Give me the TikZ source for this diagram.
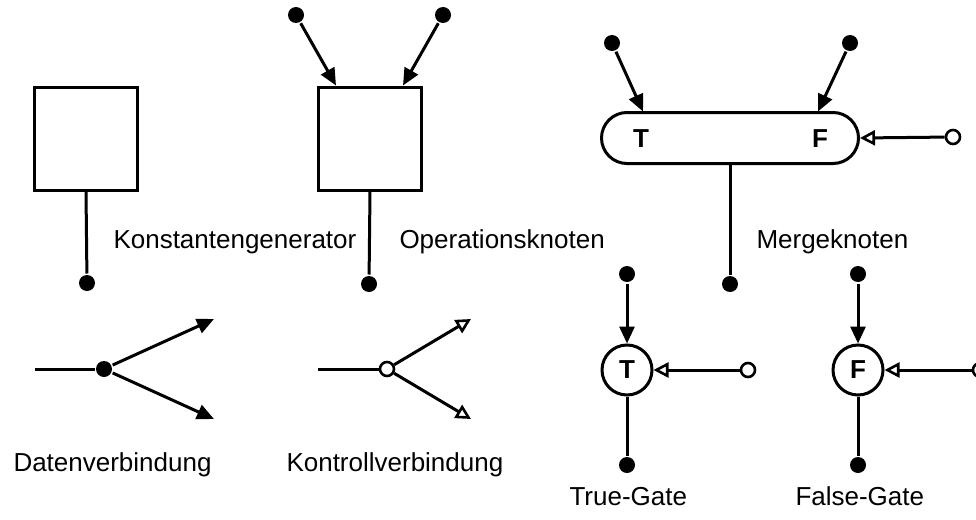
\documentclass[tikz,border=0pt]{standalone}
\usepackage{fontspec}
\setmainfont{Liberation Sans}
\usetikzlibrary{arrows.meta,shapes.misc,calc}

\tikzset{
  dot/.style={circle, fill=black, draw=none, minimum size=16pt, inner sep=0pt},
  odot/.style={circle, fill=white, draw=black, line width=2.6pt, minimum size=14pt, inner sep=0pt},
  opbox/.style={draw, line width=3pt, minimum width=103pt, minimum height=103pt, inner sep=0pt},
  gate/.style={draw, circle, line width=3pt, minimum size=50pt, inner sep=0pt, font=\bigfont\bfseries},
  datarrow/.style={-{Triangle[length=17pt,width=15pt]}},
  ctrlarrow/.style={-{Triangle[open,length=15pt,width=15pt,line width=2.6pt]}},
  lbl/.style={anchor=base west, inner sep=0pt},
}
\newcommand{\bigfont}{\fontsize{26}{30}\selectfont}

\begin{document}
\begin{tikzpicture}[x=1pt, y=-1pt, line width=3pt, font=\bigfont]
\useasboundingbox (0,0) rectangle (976,519);

% Konstantengenerator
\node[opbox] (kg) at (86,138.5) {};
\node[dot] (kgout) at (87,283) {};
\draw (kg.south) -- (kgout);
\node[lbl] (kglbl) at (112,248) {Konstantengenerator};

% Operationsknoten
\node[opbox] (op) at (370,138.5) {};
\node[dot] (opa) at (296,15) {};
\node[dot] (opb) at (443,15) {};
\coordinate (opina) at ($(op.north west)+(19,0)$);
\coordinate (opinb) at ($(op.north east)+(-20,0)$);
\draw[datarrow] (opa) -- (opina);
\draw[datarrow] (opb) -- (opinb);
\node[dot] (opout) at (369,284) {};
\draw (op.south) -- (opout);
\node[lbl] (oplbl) at (398,248) {Operationsknoten};

% Mergeknoten
\node[draw, rounded rectangle, line width=3pt, minimum width=257pt, minimum height=51pt, inner sep=0pt] (mg) at (730,138) {};
\node[font=\bigfont\bfseries] (mgt) at (641,139) {T};
\node[font=\bigfont\bfseries] (mgf) at (820,139) {F};
\node[dot] (mga) at (612,43) {};
\node[dot] (mgb) at (850,43) {};
\coordinate (mgina) at (643,111.5);
\coordinate (mginb) at (818,111.5);
\draw[datarrow] (mga) -- (mgina);
\draw[datarrow] (mgb) -- (mginb);
\node[odot] (mgc) at (953,137) {};
\draw[ctrlarrow] (mgc) -- (mg.east);
\node[dot] (mgout) at (730,284) {};
\draw (mg.south) -- (mgout);
\node[lbl] (mglbl) at (755,248) {Mergeknoten};

% Datenverbindung
\coordinate (dvin) at (35,369);
\node[dot] (dv) at (104,369) {};
\coordinate (dvup) at (214,319);
\coordinate (dvdn) at (214,419);
\draw (dvin) -- (dv);
\draw[datarrow] (dv) -- (dvup);
\draw[datarrow] (dv) -- (dvdn);
\node[lbl] (dvlbl) at (12,471) {Datenverbindung};

% Kontrollverbindung
\coordinate (kvin) at (318,369);
\node[odot] (kv) at (387,369) {};
\coordinate (kvup) at (471,319);
\coordinate (kvdn) at (471,419);
\draw (kvin) -- (kv);
\draw[ctrlarrow] (kv) -- (kvup);
\draw[ctrlarrow] (kv) -- (kvdn);
\node[lbl] (kvlbl) at (285,471) {Kontrollverbindung};

% True-Gate
\node[gate] (tg) at (627,370) {T};
\node[dot] (tgin) at (627,274) {};
\node[dot] (tgout) at (627,465) {};
\node[odot] (tgc) at (748,370) {};
\draw[datarrow] (tgin) -- (tg);
\draw (tg) -- (tgout);
\draw[ctrlarrow] (tgc) -- (tg);
\node[lbl] (tglbl) at (568,505) {True-Gate};

% False-Gate
\node[gate] (fg) at (858,370) {F};
\node[dot] (fgin) at (858,274) {};
\node[dot] (fgout) at (858,465) {};
\node[odot] (fgc) at (980,370) {};
\draw[datarrow] (fgin) -- (fg);
\draw (fg) -- (fgout);
\draw[ctrlarrow] (fgc) -- (fg);
\node[lbl] (fglbl) at (794,505) {False-Gate};
\end{tikzpicture}
\end{document}
